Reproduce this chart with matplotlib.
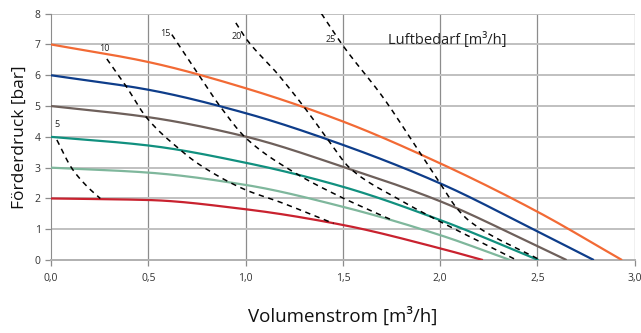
import numpy as np
import matplotlib as mp
mp.use('Agg')
import matplotlib.pyplot as plt

plt.rcParams['font.family'] = ['Open Sans', 'DejaVu Sans']

# pump curves: Volumenstrom [m3/h] -> Foerderdruck [bar]
q_7bar = [0.0, 0.5, 1.0, 1.5, 2.0, 2.5, 2.935]
p_7bar = [7.0, 6.43, 5.58, 4.50, 3.14, 1.57, 0.0]
q_6bar = [0.0, 0.5, 1.0, 1.5, 2.0, 2.5, 2.79]
p_6bar = [6.0, 5.53, 4.77, 3.74, 2.49, 0.93, 0.0]
q_5bar = [0.0, 0.5, 1.0, 1.5, 2.0, 2.5, 2.65]
p_5bar = [5.0, 4.64, 4.01, 3.03, 1.91, 0.45, 0.0]
q_4bar = [0.0, 0.5, 1.0, 1.5, 2.0, 2.505]
p_4bar = [4.0, 3.72, 3.16, 2.38, 1.30, 0.0]
q_3bar = [0.0, 0.5, 1.0, 1.5, 2.0, 2.36]
p_3bar = [3.0, 2.84, 2.44, 1.73, 0.81, 0.0]
q_2bar = [0.0, 0.5, 1.0, 1.5, 2.0, 2.22]
p_2bar = [2.0, 1.95, 1.65, 1.14, 0.38, 0.0]

# Luftbedarf lines (dashed)
air_labels = ['5', '10', '15', '20', '25']
q_air5 = [0.03, 0.107, 0.184, 0.253]
p_air5 = [3.9, 2.98, 2.40, 2.0]
q_air10 = [0.287, 0.381, 0.493, 0.664, 0.758, 1.0, 1.178, 1.452]
p_air10 = [6.53, 5.69, 4.61, 3.58, 3.12, 2.28, 1.88, 1.19]
q_air15 = [0.621, 0.758, 0.869, 1.007, 1.246, 1.469, 1.752]
p_air15 = [7.32, 6.02, 4.99, 3.93, 2.86, 2.11, 1.30]
q_air20 = [0.950, 1.007, 1.161, 1.298, 1.418, 1.537, 1.794, 1.966, 2.393]
p_air20 = [7.70, 7.15, 6.07, 4.99, 3.96, 2.98, 1.95, 1.36, 0.0]
q_air25 = [1.39, 1.503, 1.709, 1.897, 2.0, 2.086, 2.154, 2.514]
p_air25 = [8.0, 6.94, 5.26, 3.47, 2.49, 1.68, 1.25, 0.0]
label_q = [0.03, 0.273, 0.587, 0.955, 1.435]
label_p = [4.39, 6.88, 7.37, 7.26, 7.15]


def smooth(xs, ys, n=30):
    # monotone cubic through the read points (no overshoot)
    x = np.asarray(xs, float)
    y = np.asarray(ys, float)
    h = np.diff(x)
    d = np.diff(y) / h
    m = np.zeros_like(y)
    m[0], m[-1] = d[0], d[-1]
    for i in range(1, len(x) - 1):
        if d[i - 1] * d[i] > 0:
            w1 = 2 * h[i] + h[i - 1]
            w2 = h[i] + 2 * h[i - 1]
            m[i] = (w1 + w2) / (w1 / d[i - 1] + w2 / d[i])
    ox, oy = [x[0]], [y[0]]
    t = np.linspace(0, 1, n + 1)[1:]
    for i in range(len(x) - 1):
        h00 = 2 * t ** 3 - 3 * t ** 2 + 1
        h10 = t ** 3 - 2 * t ** 2 + t
        h01 = -2 * t ** 3 + 3 * t ** 2
        h11 = t ** 3 - t ** 2
        ox.extend(x[i] + t * h[i])
        oy.extend(h00 * y[i] + h10 * h[i] * m[i] + h01 * y[i + 1] + h11 * h[i] * m[i + 1])
    return ox, oy


fig = plt.figure(figsize=(6.41, 3.33), dpi=100)
ax = fig.add_axes([0.0796, 0.219, 0.9106, 0.740])

pumps = [
    (q_7bar, p_7bar, '#f26a35'),
    (q_6bar, p_6bar, '#0e3d8a'),
    (q_5bar, p_5bar, '#6e605b'),
    (q_4bar, p_4bar, '#11907f'),
    (q_3bar, p_3bar, '#7fb79c'),
    (q_2bar, p_2bar, '#c9222f'),
]
for q, p, c in pumps:
    sx, sy = smooth(q, p)
    ax.plot(sx, sy, color=c, lw=1.6, solid_capstyle='butt', zorder=3)

air = [(q_air5, p_air5), (q_air10, p_air10), (q_air15, p_air15),
       (q_air20, p_air20), (q_air25, p_air25)]
for (q, p), lab, lx, ly in zip(air, air_labels, label_q, label_p):
    sx, sy = smooth(q, p)
    ax.plot(sx, sy, color='black', lw=1.1, ls=(0, (3.5, 3)), zorder=4)
    ax.text(lx, ly, lab, fontsize=6.5, ha='center', va='center', color='#222222')

ax.text(1.733, 7.15, 'Luftbedarf [m³/h]', fontsize=10.5, ha='left', va='center',
        color='#222222')

ax.set_xlim(0, 3.0)
ax.set_ylim(0, 8)
ax.set_xticks(np.arange(0, 3.01, 0.5))
ax.set_xticklabels(['0,0', '0,5', '1,0', '1,5', '2,0', '2,5', '3,0'])
ax.set_yticks(range(0, 9))

for v in np.arange(0.5, 3.01, 0.5):
    ax.axvline(v, color='#8c8c8c', lw=0.9, zorder=1)
for v in range(1, 9):
    ax.axhline(v, color='#c0c0c0', lw=1.4, zorder=1)

for s in ['top', 'right']:
    ax.spines[s].set_visible(False)
ax.spines['left'].set_color('#8c8c8c')
ax.spines['bottom'].set_color('#b0b0b0')
ax.spines['bottom'].set_linewidth(1.4)

ax.tick_params(axis='both', colors='#8c8c8c', labelcolor='#333333', labelsize=7.5,
               length=4, width=0.9)
ax.tick_params(axis='x', pad=5)

ax.set_ylabel('Förderdruck [bar]', fontsize=12.5, color='#111111')
ax.yaxis.set_label_coords(-0.04, 0.5)
ax.set_xlabel('Volumenstrom [m³/h]', fontsize=13.5, color='#111111')
ax.xaxis.set_label_coords(0.5, -0.19)

fig.savefig('out.png', dpi=100)
